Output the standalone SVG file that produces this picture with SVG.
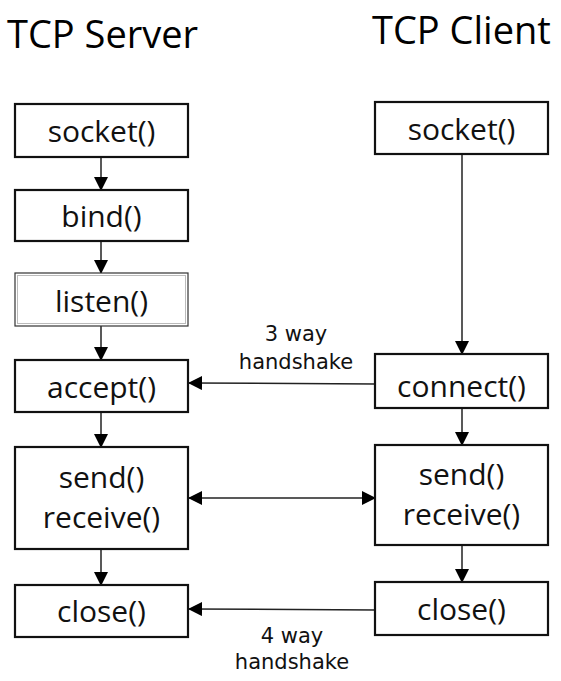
<svg xmlns="http://www.w3.org/2000/svg" width="561" height="681" viewBox="0 0 561 681">
<style>
.box{fill:#fff;stroke:#111;stroke-width:2.2}
.t{font-family:"Open Sans","DejaVu Sans",sans-serif;font-size:30px;fill:#111;text-anchor:middle}
.title{font-family:"Open Sans","DejaVu Sans",sans-serif;font-size:38px;fill:#000}
.lbl{font-family:"DejaVu Sans",sans-serif;font-size:21px;fill:#111;text-anchor:middle}
.ln{stroke:#222;stroke-width:1.5;fill:none}
</style>
<defs>
<marker id="ah" markerUnits="userSpaceOnUse" markerWidth="14" markerHeight="14" viewBox="0 0 14 14" refX="13" refY="7" orient="auto-start-reverse">
<path d="M0,0 L14,7 L0,14 Z" fill="#000"/>
</marker>
</defs>
<rect width="561" height="681" fill="#fff"/>
<text class="title" x="7" y="48">TCP Server</text>
<text class="title" x="372" y="44">TCP Client</text>
<g id="connectors">
<line class="ln" x1="101" y1="157" x2="101" y2="190" marker-end="url(#ah)"/>
<line class="ln" x1="101" y1="241" x2="101" y2="273" marker-end="url(#ah)"/>
<line class="ln" x1="101" y1="326" x2="101" y2="360" marker-end="url(#ah)"/>
<line class="ln" x1="101" y1="412" x2="101" y2="447" marker-end="url(#ah)"/>
<line class="ln" x1="101" y1="549" x2="101" y2="585" marker-end="url(#ah)"/>
<line class="ln" x1="462" y1="154" x2="462" y2="354" marker-end="url(#ah)"/>
<line class="ln" x1="462" y1="408" x2="462" y2="445" marker-end="url(#ah)"/>
<line class="ln" x1="462" y1="545" x2="462" y2="582" marker-end="url(#ah)"/>
<line class="ln" x1="375" y1="384" x2="189" y2="383" marker-end="url(#ah)"/>
<line class="ln" x1="189" y1="498" x2="375" y2="498" marker-start="url(#ah)" marker-end="url(#ah)"/>
<line class="ln" x1="376" y1="610" x2="189" y2="609" marker-end="url(#ah)"/>
<text class="lbl" x="296" y="341">3 way</text>
<text class="lbl" x="296" y="369">handshake</text>
<text class="lbl" x="292" y="643">4 way</text>
<text class="lbl" x="292" y="669">handshake</text>
</g>
<g id="s_socket"><rect class="box" x="15" y="104" width="173" height="53"/><text class="t" x="101.5" y="142">socket()</text></g>
<g id="s_bind"><rect class="box" x="15" y="190" width="173" height="51"/><text class="t" x="101.5" y="227">bind()</text></g>
<g id="s_listen"><rect x="15" y="273" width="173" height="53" fill="#fff" stroke="#333" stroke-width="1.2"/><rect x="17.5" y="275.5" width="168" height="48" fill="none" stroke="#bbb" stroke-width="1"/><text class="t" x="101.5" y="312">listen()</text></g>
<g id="s_accept"><rect class="box" x="15" y="360" width="173" height="52"/><text class="t" x="101.5" y="398">accept()</text></g>
<g id="s_sendrecv"><rect class="box" x="15" y="447" width="173" height="102"/><text class="t" x="101.5" y="488">send()</text><text class="t" x="101.5" y="528">receive()</text></g>
<g id="s_close"><rect class="box" x="15" y="585" width="173" height="52"/><text class="t" x="101.5" y="622">close()</text></g>
<g id="c_socket"><rect class="box" x="375" y="102" width="173" height="52"/><text class="t" x="461.5" y="140">socket()</text></g>
<g id="c_connect"><rect class="box" x="375" y="354" width="173" height="54"/><text class="t" x="461.5" y="397">connect()</text></g>
<g id="c_sendrecv"><rect class="box" x="375" y="445" width="173" height="100"/><text class="t" x="461.5" y="485">send()</text><text class="t" x="461.5" y="525">receive()</text></g>
<g id="c_close"><rect class="box" x="375" y="582" width="173" height="53"/><text class="t" x="461.5" y="620">close()</text></g>
</svg>
